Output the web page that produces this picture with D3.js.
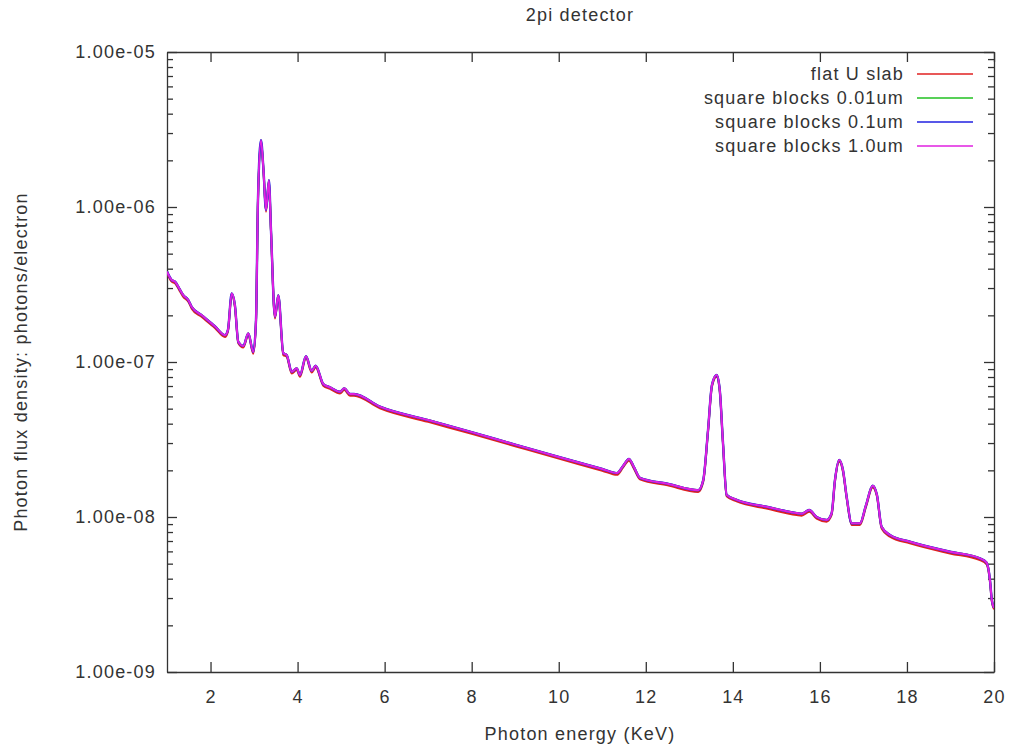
<!DOCTYPE html>
<html>
<head>
<meta charset="utf-8">
<script src="https://cdnjs.cloudflare.com/ajax/libs/d3/7.8.5/d3.min.js"></script>
<style>
  body { margin: 0; background: #fff; }
  text { font-family: "Liberation Sans", Arial, sans-serif; font-size: 18px; fill: #333; letter-spacing: 1.2px; }
  .axis path, .axis line { stroke: #333; stroke-width: 1.3; }
</style>
</head>
<body>
<div id="chart"></div>
<script>
// photon energy, KeV (shared by all four runs)
const energy = [1.00, 1.108, 1.184, 1.276, 1.374, 1.489, 1.567, 1.8, 2.1, 2.332, 2.40, 2.486,
  2.56, 2.638, 2.753, 2.868, 2.983, 3.045, 3.09, 3.159, 3.217, 3.274,
  3.343, 3.389, 3.481, 3.557, 3.672, 3.75, 3.865, 3.98, 4.055, 4.193,
  4.324, 4.416, 4.591, 4.745, 4.974, 5.073, 5.204, 5.296, 5.893, 7.0, 8.0, 9.0, 10.0, 11.0,
  11.338, 11.476, 11.613, 11.728, 11.866, 12.5, 13.206, 13.32, 13.43, 13.52, 13.628,
  13.70, 13.77, 13.858, 14.088, 14.8, 15.466, 15.581, 15.755, 15.925, 16.155, 16.27,
  16.346, 16.445, 16.53, 16.615, 16.73, 16.92, 17.058, 17.212, 17.31, 17.418,
  17.61, 18.068, 18.988, 19.677, 19.831, 19.907, 19.95, 20.0];

// flat U slab
const fluxFlat = [3.73e-7, 3.30e-7, 3.22e-7, 2.93e-7, 2.63e-7, 2.45e-7, 2.21e-7, 1.95e-7, 1.66e-7, 1.45e-7, 1.57e-7, 2.70e-7,
  2.27e-7, 1.32e-7, 1.24e-7, 1.49e-7, 1.13e-7, 1.82e-7, 1.08e-6, 2.63e-6, 1.69e-6, 9.33e-7,
  1.45e-6, 6.93e-7, 1.91e-7, 2.63e-7, 1.11e-7, 1.08e-7, 8.43e-8, 8.87e-8, 8.03e-8, 1.06e-7,
  8.57e-8, 9.22e-8, 7.03e-8, 6.70e-8, 6.27e-8, 6.59e-8, 6.06e-8, 6.06e-8, 5.02e-8, 4.11e-8, 3.44e-8, 2.86e-8, 2.38e-8, 1.99e-8,
  1.87e-8, 2.08e-8, 2.31e-8, 2.05e-8, 1.75e-8, 1.60e-8, 1.45e-8, 1.69e-8, 3.55e-8, 6.93e-8, 8.03e-8,
  6.43e-8, 3.06e-8, 1.36e-8, 1.26e-8, 1.13e-8, 1.03e-8, 1.02e-8, 1.08e-8, 9.75e-9, 9.33e-9, 1.03e-8,
  1.69e-8, 2.27e-8, 1.96e-8, 1.32e-8, 8.87e-9, 8.87e-9, 1.16e-8, 1.55e-8, 1.36e-8, 8.43e-9,
  7.46e-9, 6.76e-9, 5.82e-9, 5.27e-9, 4.94e-9, 3.83e-9, 2.85e-9, 2.54e-9];

// square blocks (0.01um, 0.1um, 1.0um overlap within a pixel)
const fluxBlocks = [3.83e-7, 3.38e-7, 3.30e-7, 3.00e-7, 2.70e-7, 2.51e-7, 2.27e-7, 2.00e-7, 1.70e-7, 1.49e-7, 1.61e-7, 2.77e-7,
  2.33e-7, 1.35e-7, 1.27e-7, 1.53e-7, 1.16e-7, 1.87e-7, 1.11e-6, 2.70e-6, 1.73e-6, 9.57e-7,
  1.49e-6, 7.11e-7, 1.96e-7, 2.70e-7, 1.14e-7, 1.11e-7, 8.65e-8, 9.10e-8, 8.24e-8, 1.09e-7,
  8.79e-8, 9.46e-8, 7.21e-8, 6.87e-8, 6.43e-8, 6.76e-8, 6.22e-8, 6.22e-8, 5.15e-8, 4.22e-8, 3.53e-8, 2.93e-8, 2.44e-8, 2.04e-8,
  1.92e-8, 2.13e-8, 2.37e-8, 2.10e-8, 1.79e-8, 1.64e-8, 1.49e-8, 1.73e-8, 3.64e-8, 7.11e-8, 8.24e-8,
  6.59e-8, 3.14e-8, 1.39e-8, 1.29e-8, 1.16e-8, 1.06e-8, 1.05e-8, 1.11e-8, 1.00e-8, 9.57e-9, 1.06e-8,
  1.73e-8, 2.33e-8, 2.01e-8, 1.35e-8, 9.10e-9, 9.10e-9, 1.19e-8, 1.59e-8, 1.39e-8, 8.65e-9,
  7.65e-9, 6.93e-9, 5.97e-9, 5.41e-9, 5.07e-9, 3.93e-9, 2.92e-9, 2.60e-9];

const seriesNames = ['flat U slab', 'square blocks 0.01um', 'square blocks 0.1um', 'square blocks 1.0um'];
const seriesValues = [fluxFlat, fluxBlocks, fluxBlocks, fluxBlocks];
const seriesColors = ['#e02020', '#20c020', '#2020e0', '#e020e0'];
const seriesWidths = [2, 2, 2.4, 2];

const xTicks = [2, 4, 6, 8, 10, 12, 14, 16, 18, 20];
const yTicks = [1e-9, 1e-8, 1e-7, 1e-6, 1e-5];

class SpectrumChart {
  constructor(_config) {
    this.config = {
      parentElement: _config.parentElement,
      containerWidth: 1010,
      containerHeight: 746,
      margin: { top: 52, right: 16, bottom: 74, left: 167 },
    };
    this.initVis();
  }

  initVis() {
    const vis = this;
    vis.width = vis.config.containerWidth - vis.config.margin.left - vis.config.margin.right;
    vis.height = vis.config.containerHeight - vis.config.margin.top - vis.config.margin.bottom;

    vis.svg = d3.select(vis.config.parentElement).append('svg')
      .attr('width', vis.config.containerWidth)
      .attr('height', vis.config.containerHeight);

    vis.chart = vis.svg.append('g')
      .attr('transform', `translate(${vis.config.margin.left},${vis.config.margin.top})`);

    vis.xScale = d3.scaleLinear().domain([1, 20]).range([0, vis.width]);
    vis.yScale = d3.scaleLog().domain([1e-9, 1e-5]).range([vis.height, 0]);

    vis.svg.append('defs').append('clipPath').attr('id', 'clip')
      .append('rect').attr('width', vis.width).attr('height', vis.height);

    vis.renderVis();
  }

  renderVis() {
    const vis = this;
    const minors = [];
    yTicks.slice(0, -1).forEach((t) => {
      for (let k = 2; k <= 9; k++) minors.push(t * k);
    });

    // minor ticks left and right
    vis.chart.append('g').attr('class', 'axis')
      .call(d3.axisLeft(vis.yScale).tickValues(minors).tickFormat('').tickSize(-6))
      .call((g) => g.select('.domain').remove());
    vis.chart.append('g').attr('class', 'axis')
      .attr('transform', `translate(${vis.width},0)`)
      .call(d3.axisRight(vis.yScale).tickValues(minors).tickFormat('').tickSize(-6))
      .call((g) => g.select('.domain').remove());

    // major axes
    vis.chart.append('g').attr('class', 'axis')
      .call(d3.axisLeft(vis.yScale).tickValues(yTicks)
        .tickFormat((d) => d3.format('.2e')(d).replace(/e([+-])(\d)$/, 'e$10$2'))
        .tickSizeInner(-10).tickSizeOuter(0).tickPadding(11));
    vis.chart.append('g').attr('class', 'axis')
      .attr('transform', `translate(${vis.width},0)`)
      .call(d3.axisRight(vis.yScale).tickValues(yTicks).tickFormat('').tickSizeInner(-10).tickSizeOuter(0));
    vis.chart.append('g').attr('class', 'axis')
      .attr('transform', `translate(0,${vis.height})`)
      .call(d3.axisBottom(vis.xScale).tickValues(xTicks).tickSizeInner(-10).tickSizeOuter(0).tickPadding(18));
    vis.chart.append('g').attr('class', 'axis')
      .call(d3.axisTop(vis.xScale).tickValues(xTicks).tickFormat('').tickSizeInner(-10).tickSizeOuter(0));
    vis.chart.selectAll('.axis text').attr('font-size', null).attr('font-family', null).attr('fill', '#333');

    // curves
    const line = d3.line()
      .x((d) => vis.xScale(d[0]))
      .y((d) => vis.yScale(d[1]))
      .curve(d3.curveMonotoneX);

    const lines = vis.chart.append('g').attr('clip-path', 'url(#clip)');
    seriesValues.forEach((vals, i) => {
      lines.append('path')
        .datum(energy.map((e, j) => [e, vals[j]]))
        .attr('fill', 'none')
        .attr('stroke', seriesColors[i])
        .attr('stroke-width', seriesWidths[i])
        .attr('stroke-linejoin', 'round')
        .attr('d', line);
    });

    // legend
    const legend = vis.svg.append('g').attr('transform', 'translate(904,74)');
    seriesNames.forEach((name, i) => {
      const row = legend.append('g').attr('transform', `translate(0,${i * 24})`);
      row.append('text').attr('text-anchor', 'end').attr('dy', '0.35em').text(name);
      row.append('line').attr('x1', 13).attr('x2', 69)
        .attr('stroke', seriesColors[i]).attr('stroke-width', 1.6);
    });

    // titles
    vis.svg.append('text').attr('x', 580).attr('y', 21).attr('text-anchor', 'middle').text('2pi detector');
    vis.svg.append('text').attr('x', 580).attr('y', 740).attr('text-anchor', 'middle').text('Photon energy (KeV)');
    vis.svg.append('text')
      .attr('transform', 'translate(27,362) rotate(-90)')
      .attr('text-anchor', 'middle')
      .text('Photon flux density: photons/electron');
  }
}

new SpectrumChart({ parentElement: '#chart' });
</script>
</body>
</html>
